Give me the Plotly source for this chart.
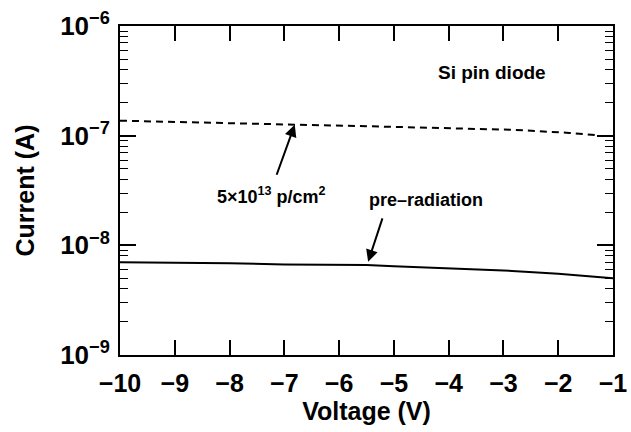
import plotly.graph_objects as go

# pre-radiation current (A) vs voltage (V)
v_pre = [-10.0, -9.0, -8.0, -7.0, -6.0, -5.5, -5.0, -4.0, -3.0, -2.0, -1.0]
i_pre = [7.0e-9, 6.95e-9, 6.85e-9, 6.7e-9, 6.65e-9, 6.6e-9, 6.45e-9, 6.2e-9, 5.9e-9, 5.5e-9, 5.0e-9]

# after 5x10^13 p/cm^2
v_irr = [-10.0, -9.0, -8.0, -7.0, -6.5, -5.5, -4.5, -3.7, -2.8, -1.8, -1.3]
i_irr = [1.37e-7, 1.34e-7, 1.31e-7, 1.27e-7, 1.25e-7, 1.22e-7, 1.19e-7, 1.17e-7, 1.13e-7, 1.06e-7, 1.01e-7]

x_ticks = [-10, -9, -8, -7, -6, -5, -4, -3, -2, -1]
x_labels = ["\u221210", "\u22129", "\u22128", "\u22127", "\u22126", "\u22125", "\u22124", "\u22123", "\u22122", "\u22121"]
y_ticks = [1e-9, 1e-8, 1e-7, 1e-6]
y_labels = ["<b>10<sup>\u22129</sup></b>", "<b>10<sup>\u22128</sup></b>",
            "<b>10<sup>\u22127</sup></b>", "<b>10<sup>\u22126</sup></b>"]

FONT = "Liberation Sans, Arial, sans-serif"

fig = go.Figure()
fig.add_trace(go.Scatter(x=v_pre, y=i_pre, mode="lines",
                         line=dict(color="black", width=2), showlegend=False))
fig.add_trace(go.Scatter(x=v_irr, y=i_irr, mode="lines",
                         line=dict(color="black", width=2, dash="7px,5px"), showlegend=False))

fig.update_layout(
    width=631, height=432,
    margin=dict(l=120, r=18, t=26, b=77),
    paper_bgcolor="white", plot_bgcolor="white",
    font=dict(family=FONT, color="black", size=24),
    xaxis=dict(
        range=[-10, -1], tickvals=x_ticks, ticktext=x_labels, automargin=False,
        ticks="inside", ticklen=15, tickwidth=2, tickcolor="black", ticklabelstandoff=5,
        showline=True, linewidth=2, linecolor="black", mirror="ticks",
        showgrid=False, zeroline=False,
        tickfont=dict(family=FONT, size=25, color="black", weight="bold"),
        title=dict(text="Voltage (V)", font=dict(family=FONT, size=25, weight="bold"), standoff=6),
    ),
    yaxis=dict(
        type="log", range=[-9, -6], tickvals=y_ticks, ticktext=y_labels, automargin=False,
        ticks="inside", ticklen=16, tickwidth=2, tickcolor="black", ticklabelstandoff=3,
        showline=True, linewidth=2, linecolor="black", mirror="ticks",
        showgrid=False, zeroline=False,
        minor=dict(ticks="inside", ticklen=8, tickwidth=1, tickcolor="black",
                   dtick="D1", showgrid=False),
        tickfont=dict(family=FONT, size=26, color="black", weight="bold"),
        title=dict(text="Current (A)", font=dict(family=FONT, size=25, weight="bold"), standoff=18),
    ),
)

fig.add_annotation(x=-3.21, y=-6.42, xref="x", yref="y", text="<b>Si pin diode</b>",
                   showarrow=False, font=dict(family=FONT, size=19, color="black"))
fig.add_annotation(x=-6.81, y=-6.9, xref="x", yref="y", ax=-7.15, ay=-7.37,
                   axref="x", ayref="y", text="", showarrow=True,
                   arrowhead=2, arrowsize=1.2, arrowwidth=2, arrowcolor="black")
fig.add_annotation(x=-7.23, y=-7.55, xref="x", yref="y",
                   text="<b>5\u00d710<sup>13</sup> p/cm<sup>2</sup></b>",
                   showarrow=False, font=dict(family=FONT, size=18, color="black"))
fig.add_annotation(x=-5.47, y=-8.15, xref="x", yref="y", ax=-5.2, ay=-7.74,
                   axref="x", ayref="y", text="", showarrow=True,
                   arrowhead=2, arrowsize=1.2, arrowwidth=2, arrowcolor="black")
fig.add_annotation(x=-4.41, y=-7.59, xref="x", yref="y", text="<b>pre\u2013radiation</b>",
                   showarrow=False, font=dict(family=FONT, size=18, color="black"))

fig.write_html("out.html")
